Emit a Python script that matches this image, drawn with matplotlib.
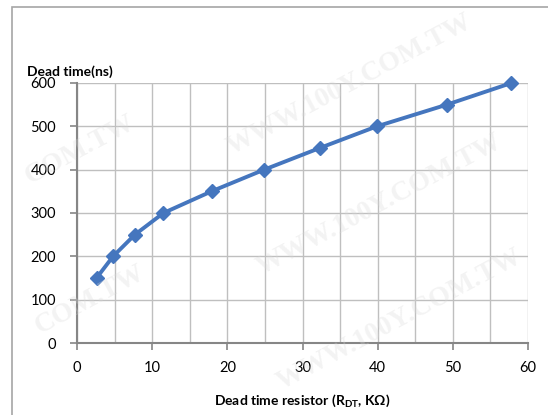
import numpy as np
import matplotlib.pyplot as plt
from matplotlib.patches import Rectangle

plt.rcParams['font.family'] = ['Lato', 'DejaVu Sans']
plt.rcParams['mathtext.fontset'] = 'custom'
plt.rcParams['mathtext.rm'] = 'Lato'
plt.rcParams['mathtext.bf'] = 'Lato:bold'

# data
r_dt = [2.6, 4.8, 7.7, 11.5, 17.9, 24.9, 32.3, 39.9, 49.2, 57.8]
dead_time = [150, 200, 250, 300, 350, 400, 450, 500, 550, 600]

x_ticks = [0, 10, 20, 30, 40, 50, 60]
y_ticks = [0, 100, 200, 300, 400, 500, 600]

fig = plt.figure(figsize=(5.48, 4.15), dpi=100)
ax = fig.add_axes([77 / 548, 72 / 415, 451 / 548, 260 / 415])

# outer chart border
fig.add_artist(Rectangle((12 / 548, -0.1), 1.2, (408 + 41.5) / 415, transform=fig.transFigure,
                         fill=False, edgecolor='#a6a6a6', linewidth=1.2))

ax.plot(r_dt, dead_time, color='#4576BE', linewidth=2.8, marker='D',
        markersize=7, zorder=3, clip_on=False)

ax.set_xlim(0, 60)
ax.set_ylim(0, 600)
ax.set_xticks(x_ticks)
ax.set_yticks(y_ticks)
ax.set_xticks(np.arange(0, 61, 5), minor=True)
ax.tick_params(axis='x', which='minor', length=0)
ax.tick_params(axis='both', which='major', length=5, width=1.2, color='#868686',
               labelsize=10.5, direction='out')
ax.tick_params(axis='x', pad=8)
ax.tick_params(axis='y', pad=10)
ax.grid(True, which='both', color='#bfbfbf', linewidth=1.0)
ax.set_axisbelow(True)
for s in ['top', 'right']:
    ax.spines[s].set_visible(False)
for s in ['left', 'bottom']:
    ax.spines[s].set_color('#868686')
    ax.spines[s].set_linewidth(1.5)

ax.set_xlabel(r'Dead time resistor (R$_{\mathbf{DT}}$, KΩ)', fontsize=10,
              fontweight='bold', labelpad=12)
fig.text(27 / 548, 1 - 72 / 415, 'Dead time(ns)', fontsize=10, fontweight='bold',
         ha='left', va='center')

# faint watermark
wm = [(350, 85, 'WWW.100Y.COM.TW'), (380, 205, 'WWW.100Y.COM.TW'),
      (400, 320, 'WWW.100Y.COM.TW'), (80, 150, 'COM.TW'), (90, 300, 'COM.TW')]
for px, py, t in wm:
    fig.text(px / 548, 1 - py / 415, t, fontsize=20, family='Liberation Serif',
             fontweight='bold', color='#d8d8d8', alpha=0.3, rotation=28,
             ha='center', va='center', zorder=10)

fig.savefig('out.png', dpi=100)
